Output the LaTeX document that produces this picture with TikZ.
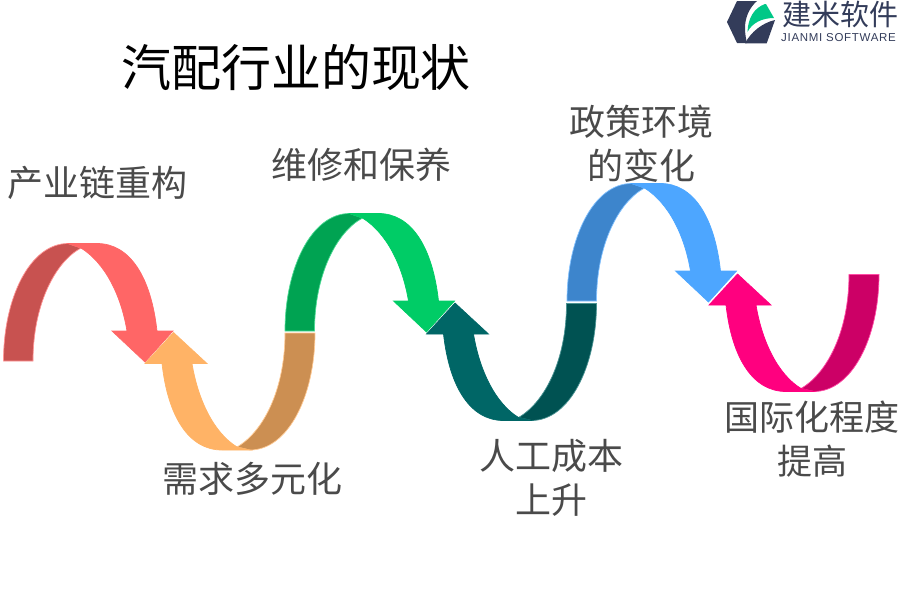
\documentclass[tikz,border=0pt]{standalone}
\usepackage{fontspec}
\newfontfamily\cjk{Noto Sans CJK SC}
\newfontfamily\logosans[LetterSpace=6]{Liberation Sans}
\definecolor{inkc}{HTML}{4A4A4A}
\definecolor{logod}{HTML}{333C5A}
\definecolor{logog}{HTML}{00C887}
\definecolor{rd}{HTML}{C85250}\definecolor{rl}{HTML}{FF6666}
\definecolor{od}{HTML}{CC8F52}\definecolor{ol}{HTML}{FFB366}
\definecolor{gd}{HTML}{00A352}\definecolor{gl}{HTML}{00CC66}
\definecolor{td}{HTML}{005252}\definecolor{tl}{HTML}{006666}
\definecolor{bd}{HTML}{3D85CC}\definecolor{bl}{HTML}{4DA6FF}
\definecolor{pd}{HTML}{CC0066}\definecolor{pl}{HTML}{FF007F}
\tikzset{
  lab/.style={font=\cjk\fontsize{36}{44}\selectfont,text=inkc,align=center,inner sep=0pt},
  seg/.style={line width=0.7pt,line join=miter}
}
\newcommand{\uparch}[4]{%
\begin{scope}[shift={(#1,#2)}]
\filldraw[seg,fill=#3,draw=#4!70!white] (3.5,361) .. controls (3.5,298) and (30,243.5) .. (68,243.5) -- (81,248) .. controls (55,262) and (33,305) .. (33,361) -- cycle;
\filldraw[seg,fill=#4,draw=#4] (68,243.5) -- (97,243.5) .. controls (130,243.5) and (151,277) .. (157,331) -- (173,331) -- (145,362) -- (112,331) -- (127,331) .. controls (121,295) and (105,263) .. (81,248) -- cycle;
\end{scope}}
\newcommand{\downarch}[4]{%
\begin{scope}[shift={(#1,#2)}]
\filldraw[seg,fill=#3,draw=#4!70!white] (315,333) .. controls (315,396) and (288,450) .. (250,450) -- (237,447) .. controls (263,432) and (285,390) .. (285,333) -- cycle;
\filldraw[seg,fill=#4,draw=#4] (250,450) -- (222,450) .. controls (189,450) and (168,417) .. (162,363.5) -- (145,363.5) -- (173.5,332.5) -- (207,363.5) -- (192,363.5) .. controls (198,400) and (214,433) .. (237,447) -- cycle;
\end{scope}}
\begin{document}
\begin{tikzpicture}[x=1pt,y=-1pt]
\useasboundingbox (0,0) rectangle (900,600);
\uparch{0}{0}{rd}{rl}
\downarch{0}{0}{od}{ol}
\uparch{281.5}{-30}{gd}{gl}
\downarch{281.5}{-29.5}{td}{tl}
\uparch{563.5}{-60}{bd}{bl}
\downarch{564}{-58.5}{pd}{pl}
% logo
\fill[logod] (727,22) -- (737,1) -- (757,1) .. controls (749,8) and (745,18) .. (745,28) .. controls (745,34) and (746,39) .. (747,43) -- (737,43) -- cycle;
\fill[logog] (747.5,32) .. controls (748,18) and (754,8) .. (765,4) -- (766,4) -- (774,18) .. controls (762,18) and (752,23) .. (747.5,32) -- cycle;
\fill[logod] (745,43.3) .. controls (751,32) and (762,23) .. (775,20) -- (766.7,43.3) -- cycle;
\node[font=\cjk\fontsize{29}{29}\selectfont,text=logod,inner sep=0pt] (brand) at (840,14) {建米软件};
\node[font=\logosans\fontsize{11.5}{12}\selectfont,text=logod,inner sep=0pt] (brandsub) at (838.5,38) {JIANMI SOFTWARE};
% title
\node[font=\cjk\fontsize{50}{50}\selectfont,text=black,inner sep=0pt] (title) at (296,67) {汽配行业的现状};
\node[lab] (n1) at (98,183) {产业链重构};
\node[lab] (n2) at (252,479) {需求多元化};
\node[lab] (n3) at (361,165) {维修和保养};
\node[lab] (n4) at (551,477.5) {人工成本\\上升};
\node[lab] (n5) at (641,144) {政策环境\\的变化};
\node[lab,font=\cjk\fontsize{35}{44}\selectfont] (n6) at (812,439) {国际化程度\\提高};
\end{tikzpicture}
\end{document}
